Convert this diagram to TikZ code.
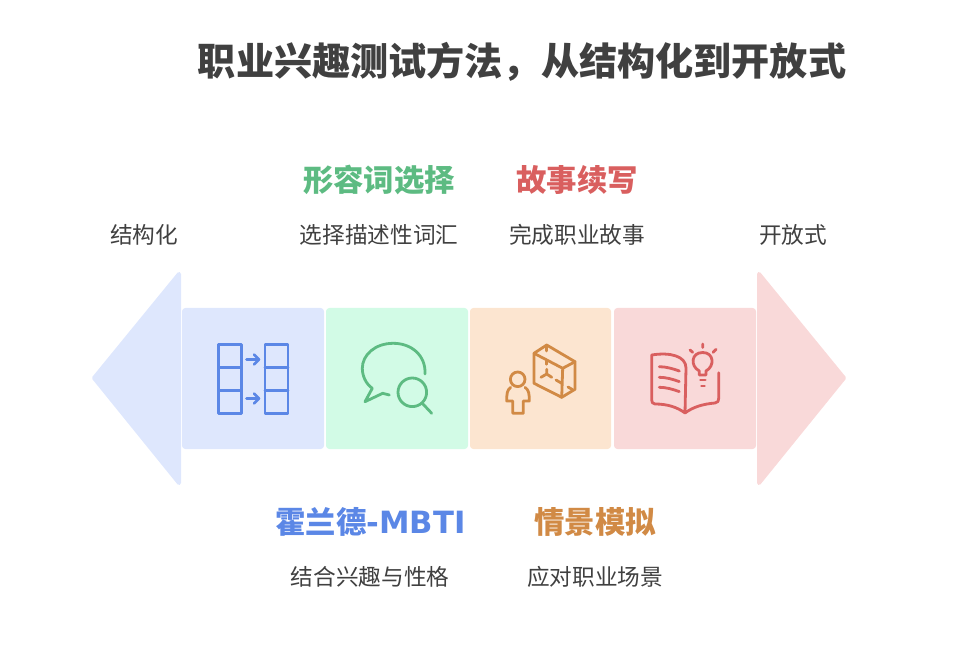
\documentclass[tikz,border=0pt]{standalone}
\usepackage{fontspec}
\setmainfont{Noto Sans CJK SC}
\newfontfamily\latinfont{DejaVu Sans}
\definecolor{blueink}{HTML}{5B87E6}
\definecolor{bluefill}{HTML}{DEE7FD}
\definecolor{greenink}{HTML}{5DBB82}
\definecolor{greenfill}{HTML}{D2FBE6}
\definecolor{orangeink}{HTML}{D18A45}
\definecolor{orangefill}{HTML}{FCE5D0}
\definecolor{redink}{HTML}{D95F5F}
\definecolor{redfill}{HTML}{F9D9D9}
\definecolor{bodyink}{HTML}{404040}
\tikzset{
	panel/.style={fill=#1, rounded corners=2.5pt},
	tip/.style={fill=#1, draw=#1, line width=3pt, line join=round},
	icon/.style={draw=#1, line width=2.1pt, line cap=round, line join=round, fill=none},
	heading/.style={font=\fontsize{22.8}{26}\selectfont\bfseries, text=#1, inner sep=0pt},
	caption/.style={font=\fontsize{17}{20}\selectfont, text=bodyink, inner sep=0pt}
}
\begin{document}
\begin{tikzpicture}[x=0.75pt,y=-0.75pt]
	\useasboundingbox (0,0) rectangle (956,666);
	\node[font=\fontsize{28.6}{32}\selectfont\bfseries, text=bodyink, inner sep=0pt] (title) at (522,62) {职业兴趣测试方法\char"FF0C\relax 从结构化到开放式};

	% arrow ends and panels
	\draw[tip=bluefill] (179,274) -- (94,378) -- (179,483) -- cycle;
	\draw[tip=redfill] (759,274) -- (844,378) -- (759,483) -- cycle;
	\fill[panel=bluefill] (182,308) rectangle (324,449);
	\fill[panel=greenfill] (326,308) rectangle (468,449);
	\fill[panel=orangefill] (470,308) rectangle (611,449);
	\fill[panel=redfill] (614,308) rectangle (756,449);

	% texts
	\node[caption] (structured) at (144,235) {结构化};
	\node[caption] (open) at (793,235) {开放式};
	\node[heading=greenink] (adjective) at (379,180) {形容词选择};
	\node[caption] (adjectivetext) at (379,235) {选择描述性词汇};
	\node[heading=redink] (story) at (577,180) {故事续写};
	\node[caption] (storytext) at (577,235) {完成职业故事};
	\node[heading=blueink] (holland) at (370.5,522) {霍兰德{\latinfont\fontsize{23}{26}\selectfont-MBTI}};
	\node[caption] (hollandtext) at (370,577) {结合兴趣与性格};
	\node[heading=orangeink] (scenario) at (595,522) {情景模拟};
	\node[caption] (scenariotext) at (595,577) {应对职业场景};

	% table icon
	\foreach \x in {218.5,265} {
		\draw[icon=blueink] (\x,344.5) rectangle ++(23,69);
		\draw[icon=blueink] (\x,367.5) -- ++(23,0) (\x,390.5) -- ++(23,0);
	}
	\foreach \y in {359.5,398.5} {
		\draw[icon=blueink] (246.5,\y) -- (259,\y) (254,\y-5) -- (259,\y) -- (254,\y+5);
	}

	% speech bubble icon
	\draw[icon=greenink] (425,374) .. controls (426,355) and (411,343.3) .. (393.3,343.3)
		.. controls (375,343.3) and (362.3,355) .. (362.3,368.3)
		.. controls (362.3,376) and (366,384) .. (372.3,388.3)
		-- (365,401.7) -- (382.7,393.3) -- (389.3,395);
	\draw[icon=greenink] (412.3,392.3) circle (14.3);
	\draw[icon=greenink] (422.3,403.3) -- (431.7,413.3);

	% person and box icon
	\draw[icon=orangeink] (517.7,379.3) circle (7.3);
	\draw[icon=orangeink] (510.7,387.3) .. controls (507,390) and (506.7,394) .. (506.7,401)
		-- (512.7,401) -- (512.7,413.3) -- (523.3,413.3) -- (523.3,401) -- (529.3,401)
		.. controls (529.3,394) and (529,390) .. (525,387.3);
	\draw[icon=orangeink] (546.7,345) -- (534,353.3) -- (534,383.3) -- (561.7,397.3) -- (575,389.3) -- (575,361.7) -- cycle;
	\draw[icon=orangeink] (534,353.3) -- (562.7,368.3) -- (575,361.7) (562.7,368.3) -- (561.7,397.3);
	\draw[icon=orangeink] (546.7,345) -- (546.7,351) (546.7,360) -- (546.7,364.3);
	\draw[icon=orangeink] (546.7,369.3) -- (546.7,374) -- (541,377.3) (546.7,374) -- (551.7,377.3);
	\draw[icon=orangeink] (556,380) -- (561.7,383.3) (568,387) -- (572,389.3);

	% book and bulb icon
	\draw[icon=redink] (685,413) .. controls (677,407) and (667,404) .. (655,404)
		.. controls (652.5,404) and (651.7,402) .. (651.7,400) -- (651.7,355)
		.. controls (670,352) and (686,356) .. (686,368) -- (685,413)
		.. controls (693,407) and (703,404) .. (715,403)
		.. controls (718,402.5) and (718.7,401) .. (718.7,398.3) -- (718.7,372.7);
	\foreach \y in {366.7,377.3,387.3} {
		\draw[icon=redink] (659.3,\y) .. controls (666,\y) and (673,\y+2) .. (679.3,\y+4.3);
	}
	\draw[icon=redink] (699.3,371) .. controls (690,366) and (691,352.5) .. (702.7,352.5)
		.. controls (714,352.5) and (715,366) .. (706,371) -- (706,375) -- (699.3,375) -- cycle;
	\draw[icon=redink] (700.5,380) -- (705.3,380) (701.5,386) -- (704.5,386);
	\draw[icon=redink] (702.7,344) -- (702.7,347.5) (690,350) -- (692.7,352.3) (716,349.3) -- (713,352.3);
\end{tikzpicture}
\end{document}
